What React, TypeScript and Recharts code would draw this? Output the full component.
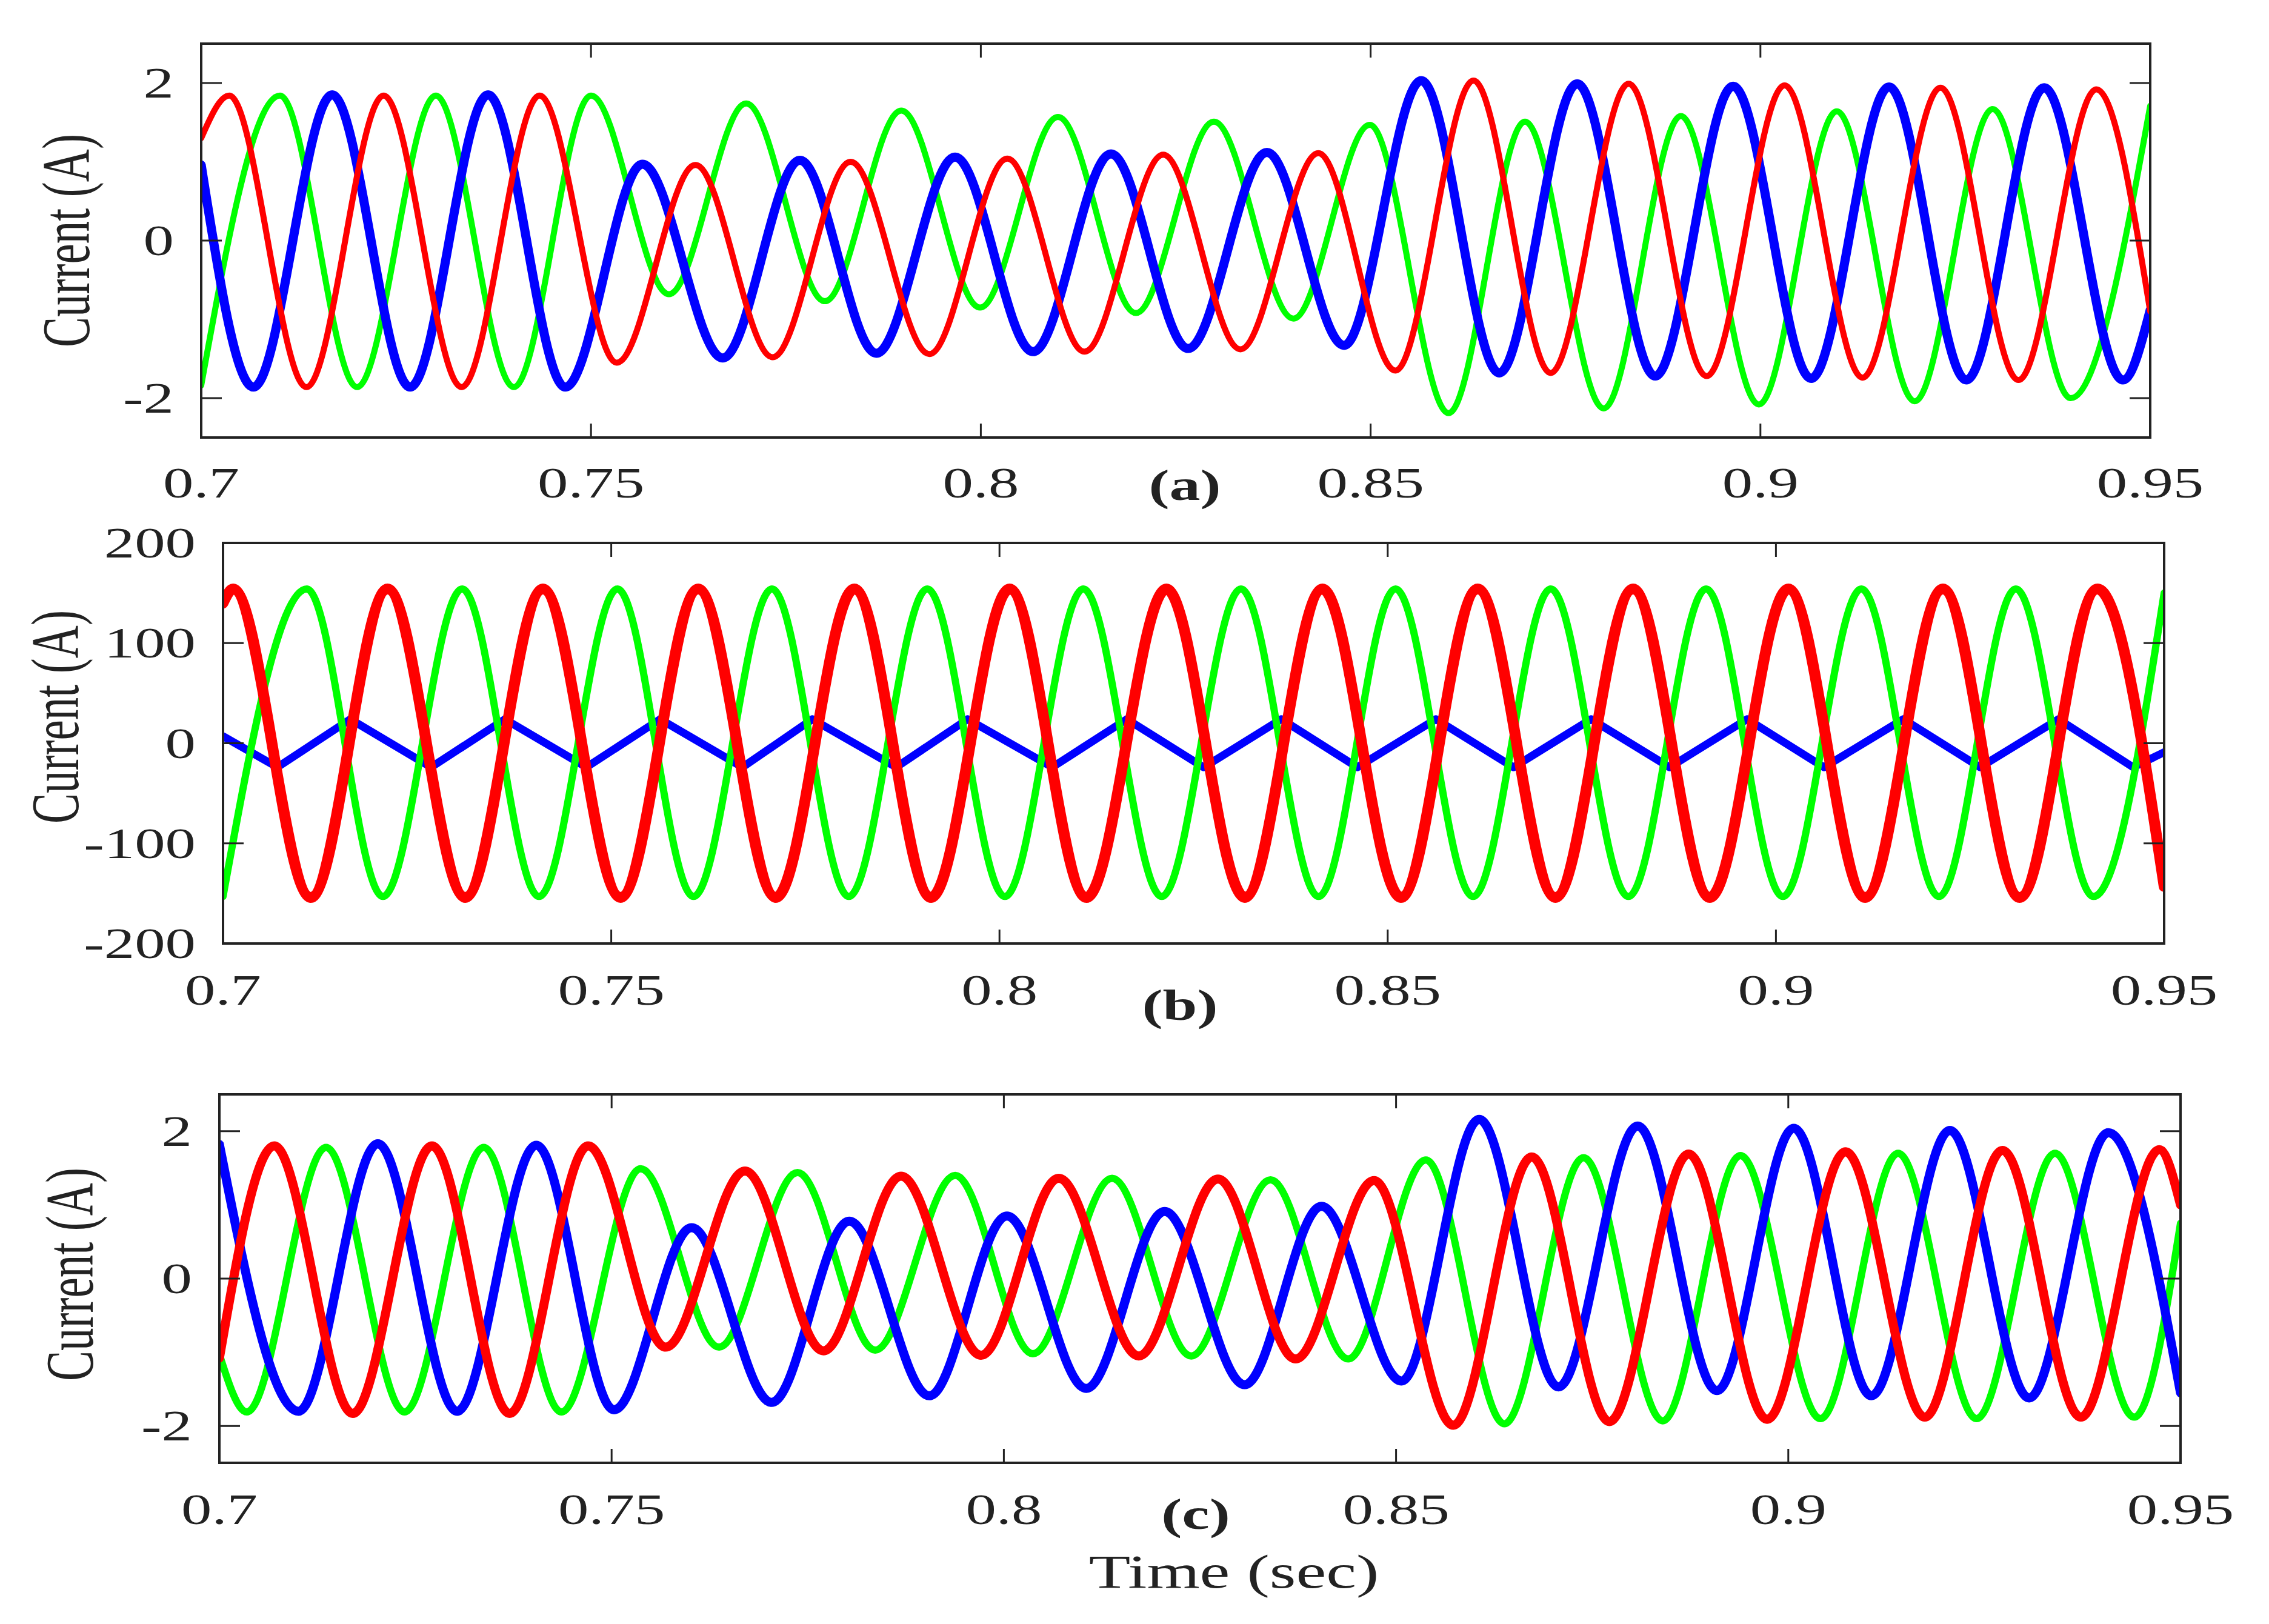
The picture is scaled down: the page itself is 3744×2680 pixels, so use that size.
import React from 'react';
import { LineChart, Line, XAxis, YAxis } from 'recharts';

// ---------- tick values and labels ----------
const TIME_TICKS = [0.7, 0.75, 0.8, 0.85, 0.9, 0.95];
const TIME_TICK_LABELS = ['0.7', '0.75', '0.8', '0.85', '0.9', '0.95'];
const SMALL_TICKS = [-2, 0, 2];
const SMALL_TICK_LABELS = ['-2', '0', '2'];
const LARGE_TICKS = [-200, -100, 0, 100, 200];
const LARGE_TICK_LABELS = ['-200', '-100', '0', '100', '200'];
const PANEL_TAGS = ['(a)', '(b)', '(c)'];
const Y_TITLE = 'Current (A)';
const X_TITLE = 'Time (sec)';

type Pt = [number, number]; // [time (s), current (A)] read at extrema of each wave

// ---------- panel (a) ----------
const A_BLUE: Pt[] = [
  [0.7, 0.96], [0.7067, -1.86], [0.7168, 1.85], [0.7268, -1.86], [0.7368, 1.85], [0.7467, -1.86],
  [0.7566, 0.97], [0.7669, -1.49], [0.7768, 1.02], [0.7866, -1.43], [0.7967, 1.06], [0.8067, -1.41],
  [0.8167, 1.1], [0.8266, -1.37], [0.8367, 1.12], [0.8466, -1.33], [0.8565, 2.03], [0.8665, -1.68],
  [0.8765, 1.99], [0.8865, -1.72], [0.8965, 1.96], [0.9065, -1.75], [0.9165, 1.95], [0.9264, -1.77],
  [0.9364, 1.94], [0.9465, -1.77], [0.95, -0.88],
];
const A_RED: Pt[] = [
  [0.7, 1.3], [0.7036, 1.84], [0.7135, -1.86], [0.7234, 1.84], [0.7334, -1.86], [0.7434, 1.84],
  [0.7533, -1.55], [0.7634, 0.96], [0.7733, -1.48], [0.7833, 1.0], [0.7934, -1.44], [0.8034, 1.04],
  [0.8133, -1.41], [0.8234, 1.09], [0.8333, -1.38], [0.8433, 1.11], [0.8532, -1.65], [0.8632, 2.03],
  [0.8731, -1.68], [0.8831, 1.99], [0.8931, -1.72], [0.9031, 1.97], [0.9131, -1.74], [0.9231, 1.94],
  [0.9331, -1.77], [0.9431, 1.92], [0.95, -0.9],
];
const A_GREEN: Pt[] = [
  [0.7, -1.84], [0.7101, 1.84], [0.72, -1.86], [0.7301, 1.84], [0.7401, -1.86], [0.75, 1.84],
  [0.76, -0.68], [0.7699, 1.74], [0.78, -0.77], [0.7898, 1.65], [0.7999, -0.85], [0.8099, 1.57],
  [0.8199, -0.92], [0.8299, 1.51], [0.8401, -0.99], [0.8499, 1.47], [0.86, -2.19], [0.8698, 1.51],
  [0.8799, -2.13], [0.8898, 1.58], [0.8998, -2.08], [0.9098, 1.64], [0.9198, -2.04], [0.9298, 1.67],
  [0.9398, -2.0], [0.95, 1.71],
];

// ---------- panel (b) ----------
const B_RED: Pt[] = [
  [0.7, 140], [0.7013, 154], [0.7113, -154], [0.7212, 154], [0.7312, -154], [0.7412, 154],
  [0.7512, -154], [0.7612, 154], [0.7712, -154], [0.7813, 154], [0.7912, -154], [0.8013, 154],
  [0.8112, -154], [0.8215, 154], [0.8316, -154], [0.8416, 154], [0.8517, -154], [0.8616, 154],
  [0.8716, -154], [0.8816, 154], [0.8915, -154], [0.9016, 154], [0.9115, -154], [0.9215, 154],
  [0.9314, -154], [0.9414, 154], [0.95, -143],
];
const B_GREEN: Pt[] = [
  [0.7, -153], [0.7108, 154], [0.7206, -153], [0.7308, 154], [0.7407, -153], [0.7508, 154],
  [0.7606, -153], [0.7707, 154], [0.7806, -153], [0.7907, 154], [0.8007, -153], [0.8108, 154],
  [0.8209, -153], [0.8311, 154], [0.8411, -153], [0.851, 154], [0.861, -153], [0.871, 154],
  [0.881, -153], [0.891, 154], [0.9009, -153], [0.911, 154], [0.921, -153], [0.9309, 154],
  [0.9409, -153], [0.95, 150],
];
const B_BLUE: Pt[] = [
  [0.7, 7], [0.707, -24], [0.7164, 24], [0.7268, -24], [0.7363, 24], [0.7468, -24],
  [0.7563, 24], [0.7669, -24], [0.7759, 24], [0.7867, -24], [0.7959, 24], [0.8068, -24],
  [0.8164, 24], [0.8263, -24], [0.8363, 24], [0.8461, -24], [0.8562, 24], [0.8662, -24],
  [0.8762, 24], [0.8863, -24], [0.8963, 24], [0.9062, -24], [0.9164, 24], [0.9263, -24],
  [0.9364, 24], [0.946, -24], [0.95, -9],
];

// ---------- panel (c) ----------
const C_BLUE: Pt[] = [
  [0.7, 1.82], [0.7101, -1.8], [0.7202, 1.83], [0.7303, -1.8], [0.7404, 1.81], [0.7503, -1.78],
  [0.7602, 0.69], [0.7704, -1.68], [0.7803, 0.78], [0.7905, -1.59], [0.8004, 0.85], [0.8105, -1.49],
  [0.8205, 0.91], [0.8307, -1.44], [0.8405, 0.98], [0.8507, -1.39], [0.8606, 2.16], [0.8707, -1.47],
  [0.8808, 2.07], [0.8909, -1.52], [0.9007, 2.04], [0.9106, -1.59], [0.9206, 2.01], [0.9307, -1.62],
  [0.9408, 1.98], [0.95, -1.55],
];
const C_RED: Pt[] = [
  [0.7, -1.08], [0.707, 1.8], [0.717, -1.83], [0.7271, 1.8], [0.737, -1.83], [0.747, 1.8],
  [0.7569, -0.93], [0.767, 1.46], [0.777, -0.98], [0.7869, 1.39], [0.7971, -1.04], [0.807, 1.36],
  [0.8172, -1.05], [0.8273, 1.35], [0.8372, -1.09], [0.8472, 1.33], [0.8573, -1.99], [0.8673, 1.65],
  [0.8772, -1.94], [0.8873, 1.69], [0.8973, -1.91], [0.9073, 1.72], [0.9174, -1.88], [0.9273, 1.74],
  [0.9373, -1.88], [0.9473, 1.75], [0.95, 1.0],
];
const C_GREEN: Pt[] = [
  [0.7, -1.03], [0.7035, -1.81], [0.7136, 1.78], [0.7236, -1.81], [0.7337, 1.78], [0.7436, -1.81],
  [0.7537, 1.49], [0.7637, -0.93], [0.7737, 1.44], [0.7836, -0.97], [0.7938, 1.4], [0.8037, -1.02],
  [0.8138, 1.36], [0.8239, -1.05], [0.834, 1.34], [0.8439, -1.09], [0.8538, 1.61], [0.8638, -1.97],
  [0.8739, 1.64], [0.884, -1.93], [0.8939, 1.67], [0.9041, -1.9], [0.914, 1.7], [0.924, -1.9],
  [0.934, 1.7], [0.9441, -1.88], [0.95, 0.75],
];

// ---------- styling ----------
const FONT = "'Liberation Serif', 'Times New Roman', Times, serif";
const INK = '#222222';
const BLUE = '#0000ff';
const RED = '#ff0000';
const GREEN = '#00ff00';
const W = 3744;
const STRETCH = 1.42;

type Series = { name: string; data: Pt[]; color: string; width: number; curve: 'monotone' | 'linear' };
type PanelCfg = {
  top: number; height: number;
  plotLeft: number; plotRight: number; plotTop: number; plotBottom: number;
  yDomain: [number, number]; yTicks: number[]; yLabels: string[];
  series: Series[];
  tag: string; tagX: number; tagBaseline: number;
  yTitleX: number; yTitleY: number;
  tickBaselineOff: number;
  xTitle?: { x: number; baseline: number };
};

const PANELS: PanelCfg[] = [
  {
    top: 0, height: 880, plotLeft: 332, plotRight: 3548, plotTop: 72, plotBottom: 722,
    yDomain: [-2.5, 2.5], yTicks: SMALL_TICKS, yLabels: SMALL_TICK_LABELS,
    series: [
      { name: 'a-green', data: A_GREEN, color: GREEN, width: 10, curve: 'monotone' },
      { name: 'a-blue', data: A_BLUE, color: BLUE, width: 15, curve: 'monotone' },
      { name: 'a-red', data: A_RED, color: RED, width: 10, curve: 'monotone' },
    ],
    tag: PANEL_TAGS[0], tagX: 1955, tagBaseline: 825, yTitleX: 118, yTitleY: 397, tickBaselineOff: 99,
  },
  {
    top: 850, height: 880, plotLeft: 368, plotRight: 3571, plotTop: 896, plotBottom: 1557,
    yDomain: [-200, 200], yTicks: LARGE_TICKS, yLabels: LARGE_TICK_LABELS,
    series: [
      { name: 'b-blue', data: B_BLUE, color: BLUE, width: 13, curve: 'linear' },
      { name: 'b-green', data: B_GREEN, color: GREEN, width: 12, curve: 'monotone' },
      { name: 'b-red', data: B_RED, color: RED, width: 18, curve: 'monotone' },
    ],
    tag: PANEL_TAGS[1], tagX: 1947, tagBaseline: 1683, yTitleX: 100, yTitleY: 1183, tickBaselineOff: 101,
  },
  {
    top: 1740, height: 940, plotLeft: 362, plotRight: 3598, plotTop: 1806, plotBottom: 2414,
    yDomain: [-2.5, 2.5], yTicks: SMALL_TICKS, yLabels: SMALL_TICK_LABELS,
    series: [
      { name: 'c-green', data: C_GREEN, color: GREEN, width: 12, curve: 'monotone' },
      { name: 'c-blue', data: C_BLUE, color: BLUE, width: 15, curve: 'monotone' },
      { name: 'c-red', data: C_RED, color: RED, width: 15, curve: 'monotone' },
    ],
    tag: PANEL_TAGS[2], tagX: 1973, tagBaseline: 2523, yTitleX: 124, yTitleY: 2103, tickBaselineOff: 101,
    xTitle: { x: 2036, baseline: 2620 },
  },
];

const TICK_FONT = 71;
const X_TICK_LEN = 23;
const Y_TICK_LEN = 34;

function Panel({ cfg }: { cfg: PanelCfg }) {
  const T = cfg.top;
  const pTop = cfg.plotTop - T;
  const pBottom = cfg.plotBottom - T;
  const margin = {
    top: pTop - 1,
    bottom: cfg.height - pBottom - 100,
    left: cfg.plotLeft - 100,
    right: W - cfg.plotRight - 1,
  };
  const axisLine = { stroke: INK, strokeWidth: 4, strokeLinecap: 'square' as const };

  const bottomTick = (props: any) => {
    const { x, payload, index } = props;
    const i = TIME_TICKS.indexOf(payload.value);
    const label = i >= 0 ? TIME_TICK_LABELS[i] : String(payload.value);
    return (
      <g key={`bt-${index}`}>
        <line x1={x} x2={x} y1={pBottom} y2={pBottom - X_TICK_LEN} stroke={INK} strokeWidth={3} />
        <text
          transform={`translate(${x},${pBottom + cfg.tickBaselineOff}) scale(${STRETCH},1)`}
          textAnchor="middle" fontFamily={FONT} fontSize={TICK_FONT} fill={INK}
        >{label}</text>
      </g>
    );
  };
  const topTick = (props: any) => {
    const { x, index } = props;
    return (
      <g key={`tt-${index}`}>
        <line x1={x} x2={x} y1={pTop} y2={pTop + X_TICK_LEN} stroke={INK} strokeWidth={3} />
      </g>
    );
  };
  const leftTick = (props: any) => {
    const { y, payload, index } = props;
    const i = cfg.yTicks.indexOf(payload.value);
    const label = i >= 0 ? cfg.yLabels[i] : String(payload.value);
    return (
      <g key={`lt-${index}`}>
        <line x1={cfg.plotLeft} x2={cfg.plotLeft + Y_TICK_LEN} y1={y} y2={y} stroke={INK} strokeWidth={3} />
        <text
          transform={`translate(${cfg.plotLeft - 45},${y + TICK_FONT * 0.34}) scale(${STRETCH},1)`}
          textAnchor="end" fontFamily={FONT} fontSize={TICK_FONT} fill={INK}
        >{label}</text>
      </g>
    );
  };
  const rightTick = (props: any) => {
    const { y, index } = props;
    return (
      <g key={`rt-${index}`}>
        <line x1={cfg.plotRight} x2={cfg.plotRight - Y_TICK_LEN} y1={y} y2={y} stroke={INK} strokeWidth={3} />
      </g>
    );
  };

  const yTitle = () => (
    <text
      transform={`translate(${cfg.yTitleX},${cfg.yTitleY - T}) rotate(-90) scale(1,1.5)`}
      x={0} y={75 * 0.255} textAnchor="middle" fontFamily={FONT} fontSize={75} fill={INK}
    >{Y_TITLE}</text>
  );
  const tagLabel = () => (
    <g>
      <text
        transform={`translate(${cfg.tagX},${cfg.tagBaseline - T}) scale(${STRETCH},1)`}
        textAnchor="middle" fontFamily={FONT} fontWeight="bold" fontSize={72} fill={INK}
      >{cfg.tag}</text>
      {cfg.xTitle ? (
        <text
          transform={`translate(${cfg.xTitle.x},${cfg.xTitle.baseline - T}) scale(${STRETCH},1)`}
          textAnchor="middle" fontFamily={FONT} fontSize={79} fill={INK}
        >{X_TITLE}</text>
      ) : null}
    </g>
  );

  return (
    <div style={{ position: 'absolute', left: 0, top: T, width: W, height: cfg.height }}>
      <LineChart width={W} height={cfg.height} margin={margin}>
        <XAxis
          xAxisId="b" dataKey="t" type="number" orientation="bottom" height={100}
          domain={[0.7, 0.95]} ticks={TIME_TICKS} interval={0} allowDataOverflow
          tickSize={0} tickMargin={0} tickLine={false} axisLine={axisLine} tick={bottomTick}
          label={{ content: tagLabel }}
        />
        <XAxis
          xAxisId="t" dataKey="t" type="number" orientation="top" height={1}
          domain={[0.7, 0.95]} ticks={TIME_TICKS} interval={0} allowDataOverflow
          tickSize={0} tickMargin={0} tickLine={false} axisLine={axisLine} tick={topTick}
        />
        <YAxis
          yAxisId="l" type="number" orientation="left" width={100}
          domain={cfg.yDomain} ticks={cfg.yTicks} interval={0} allowDataOverflow
          tickSize={0} tickMargin={0} tickLine={false} axisLine={axisLine} tick={leftTick}
          label={{ content: yTitle }}
        />
        <YAxis
          yAxisId="r" type="number" orientation="right" width={1}
          domain={cfg.yDomain} ticks={cfg.yTicks} interval={0} allowDataOverflow
          tickSize={0} tickMargin={0} tickLine={false} axisLine={axisLine} tick={rightTick}
        />
        {cfg.series.map((s) => (
          <Line
            key={s.name} xAxisId="b" yAxisId="l"
            data={s.data.map(([t, v]) => ({ t, v }))} dataKey="v" type={s.curve}
            stroke={s.color} strokeWidth={s.width} strokeLinejoin="round" strokeLinecap="round"
            dot={false} activeDot={false} isAnimationActive={false}
          />
        ))}
      </LineChart>
    </div>
  );
}

export default function App() {
  return (
    <div style={{ position: 'absolute', left: 0, top: 0, width: W, height: 2680, background: '#ffffff' }}>
      {PANELS.map((p, i) => <Panel key={i} cfg={p} />)}
    </div>
  );
}
